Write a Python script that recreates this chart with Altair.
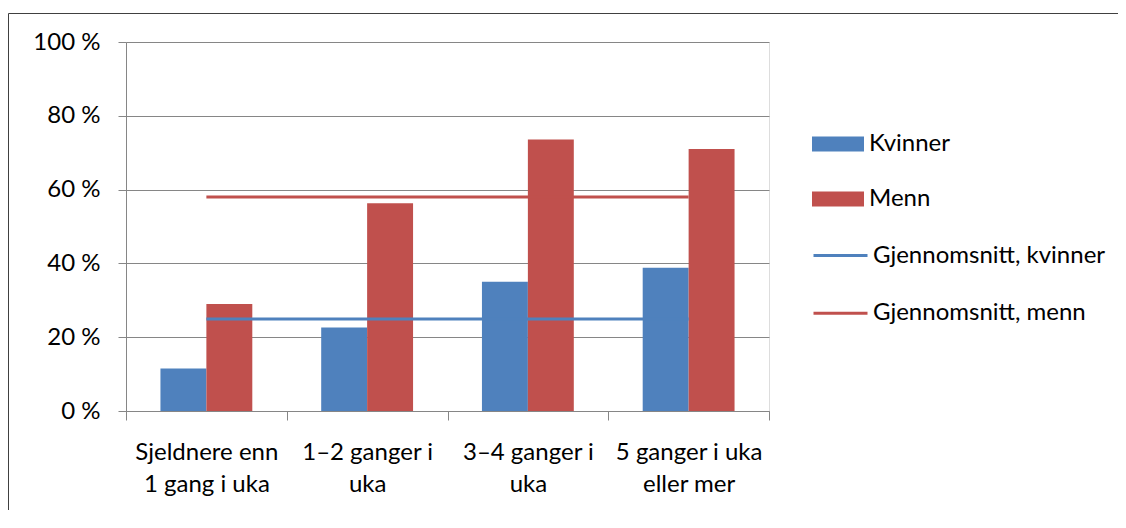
import altair as alt
import pandas as pd

categories = ["Sjeldnere enn\n1 gang i uka", "1–2 ganger i\nuka", "3–4 ganger i\nuka", "5 ganger i uka\neller mer"]
kvinner = [11.5, 22.6, 35.0, 38.8]
menn = [29.0, 56.3, 73.6, 71.0]
snitt_kvinner = 24.9
snitt_menn = 58.0
groups = ["Kvinner", "Menn"]
avg_series = ["Gjennomsnitt, kvinner", "Gjennomsnitt, menn"]
y_ticks = [0, 20, 40, 60, 80, 100]

BLUE = "#4F81BD"
RED = "#C0504D"
GRID = "#868686"
FONT = "Lato"

bars = pd.DataFrame(
    [{"kategori": c, "gruppe": "Kvinner", "andel": v} for c, v in zip(categories, kvinner)]
    + [{"kategori": c, "gruppe": "Menn", "andel": v} for c, v in zip(categories, menn)]
)
lines = pd.DataFrame(
    [{"kategori": c, "serie": avg_series[0], "andel": snitt_kvinner} for c in categories]
    + [{"kategori": c, "serie": avg_series[1], "andel": snitt_menn} for c in categories]
)

W, H = 643, 369

x_enc = alt.X(
    "kategori:N", sort=categories, title=None,
    scale=alt.Scale(paddingInner=0, paddingOuter=0),
    axis=alt.Axis(
        labelAngle=0, tickBand="extent", tickSize=9, labelPadding=20,
        labelExpr="split(datum.label, '\\n')", labelLineHeight=32,
        labelFontSize=24, labelFont=FONT, labelColor="black",
        domainColor=GRID, tickColor=GRID, grid=False, labelLimit=300,
    ),
)
y_enc = alt.Y(
    "andel:Q", title=None,
    scale=alt.Scale(domain=[0, 100], nice=False),
    axis=alt.Axis(
        values=y_ticks, labelExpr="datum.value + ' %'", tickSize=8, labelPadding=18,
        labelFontSize=24, labelFont=FONT, labelColor="black",
        domainColor=GRID, tickColor=GRID, gridColor=GRID, grid=True,
    ),
)

bar_layer = alt.Chart(bars).mark_bar().encode(
    x=x_enc,
    y=y_enc,
    xOffset=alt.XOffset("gruppe:N", sort=groups, scale=alt.Scale(paddingOuter=0.75, paddingInner=0)),
    color=alt.Color(
        "gruppe:N",
        scale=alt.Scale(domain=groups, range=[BLUE, RED]),
        legend=alt.Legend(
            title=None, orient="none", legendX=686, legendY=76,
            symbolType="M-1,-0.29H1V0.29H-1Z", symbolSize=2704, symbolStrokeWidth=0,
            rowPadding=17, labelOffset=5, padding=0,
            labelFont=FONT, labelFontSize=24, labelColor="black", labelLimit=400,
        ),
    ),
)

line_layer = alt.Chart(lines).mark_line(strokeWidth=3).encode(
    x=alt.X("kategori:N", sort=categories),
    y="andel:Q",
    stroke=alt.Stroke(
        "serie:N",
        scale=alt.Scale(domain=avg_series, range=[BLUE, RED]),
        legend=alt.Legend(
            title=None, orient="none", legendX=686, legendY=185,
            symbolType="stroke", symbolSize=2916, symbolStrokeWidth=3,
            rowPadding=16.7, labelOffset=4, padding=0,
            labelFont=FONT, labelFontSize=24, labelColor="black", labelLimit=400,
        ),
    ),
    detail="serie:N",
)

frame = pd.DataFrame({"k": [0]})
top_border = alt.Chart(frame).mark_rule(color="#404040", strokeWidth=1).encode(
    x=alt.value(-117.5), x2=alt.value(W + 349), y=alt.value(-28.5)
)
left_border = alt.Chart(frame).mark_rule(color="#404040", strokeWidth=1).encode(
    x=alt.value(-117.5), y=alt.value(-28.5), y2=alt.value(H + 99)
)

chart = alt.layer(bar_layer, line_layer, top_border, left_border).resolve_scale(
    color="independent", stroke="independent"
).properties(
    width=W, height=H,
    autosize=alt.AutoSizeParams(type="none"),
    padding={"left": 118, "top": 34, "right": 349, "bottom": 99},
).configure_view(stroke=None).configure(background="white")

chart.save("out.html", embed_options={"renderer": "svg", "actions": False})
